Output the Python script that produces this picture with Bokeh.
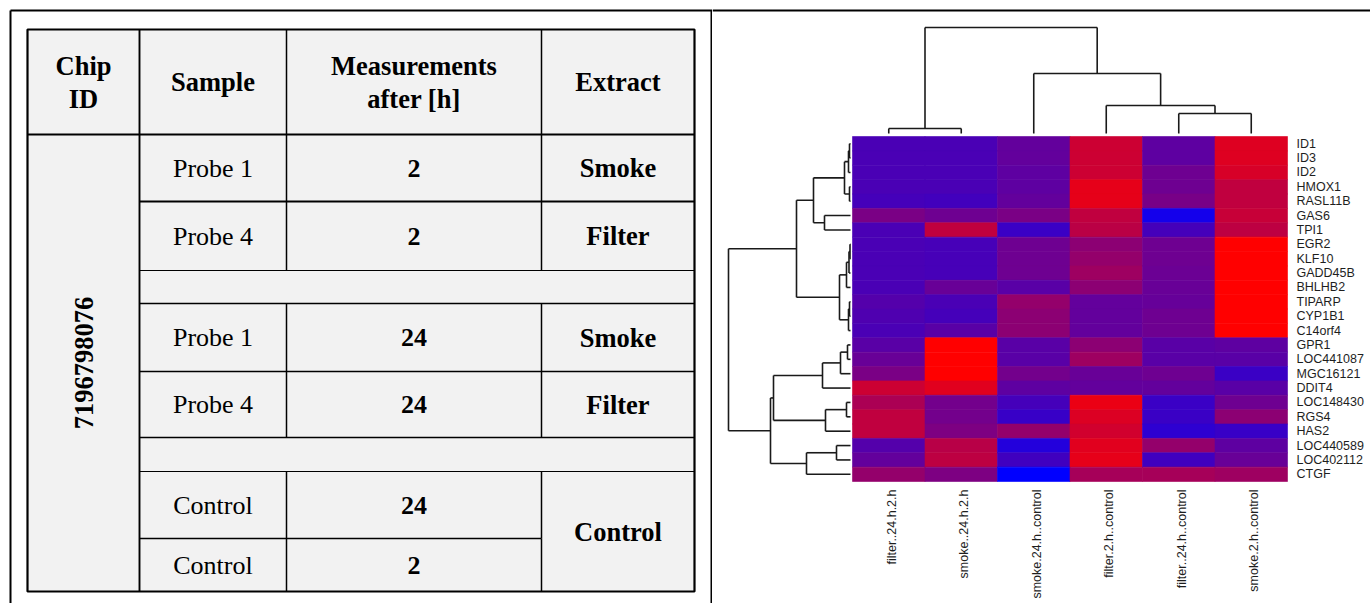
import math
from bokeh.plotting import figure
from bokeh.models import Range1d, LinearColorMapper, ColumnDataSource
from bokeh.layouts import row
from bokeh.core.properties import value
from bokeh.embed import file_html
from bokeh.resources import INLINE

# ---------------- table data ----------------
CHIP_ID = "7196798076"
TABLE_HEADERS = ["Chip\nID", "Sample", "Measurements\nafter [h]", "Extract"]
SAMPLES = ["Probe 1", "Probe 4", "Probe 1", "Probe 4", "Control", "Control"]
HOURS = ["2", "2", "24", "24", "24", "2"]
EXTRACTS = ["Smoke", "Filter", "Smoke", "Filter", "Control"]
EXTRACT_ROW_SPANS = [(0, 0), (1, 1), (2, 2), (3, 3), (4, 5)]

# ---------------- heatmap data ----------------
GENES = ["ID1", "ID3", "ID2", "HMOX1", "RASL11B", "GAS6", "TPI1", "EGR2", "KLF10",
         "GADD45B", "BHLHB2", "TIPARP", "CYP1B1", "C14orf4", "GPR1", "LOC441087",
         "MGC16121", "DDIT4", "LOC148430", "RGS4", "HAS2", "LOC440589", "LOC402112", "CTGF"]
CONDITIONS = ["filter..24.h.2.h", "smoke..24.h.2.h", "smoke.24.h..control",
              "filter.2.h..control", "filter..24.h..control", "smoke.2.h..control"]

# scaled expression (0 = blue, 1 = red), one list per condition, rows in GENES order
filter_24h_2h = [0.29, 0.29, 0.29, 0.29, 0.27, 0.48, 0.29, 0.29, 0.29, 0.29, 0.29, 0.33,
                 0.31, 0.29, 0.35, 0.41, 0.48, 0.80, 0.67, 0.75, 0.75, 0.33, 0.39, 0.58]
smoke_24h_2h = [0.29, 0.29, 0.29, 0.29, 0.26, 0.43, 0.75, 0.28, 0.28, 0.28, 0.41, 0.29,
                0.27, 0.35, 1.00, 1.00, 1.00, 0.88, 0.45, 0.45, 0.49, 0.72, 0.74, 0.49]
smoke_24h_control = [0.39, 0.39, 0.37, 0.37, 0.39, 0.48, 0.23, 0.43, 0.43, 0.43, 0.35, 0.58,
                     0.55, 0.55, 0.35, 0.35, 0.45, 0.37, 0.27, 0.22, 0.58, 0.14, 0.25, 0.00]
filter_2h_control = [0.80, 0.80, 0.80, 0.90, 0.90, 0.75, 0.73, 0.55, 0.58, 0.62, 0.55, 0.39,
                     0.39, 0.39, 0.55, 0.62, 0.41, 0.39, 0.92, 0.86, 0.82, 0.88, 0.90, 0.65]
filter_24h_control = [0.37, 0.37, 0.43, 0.43, 0.47, 0.08, 0.27, 0.43, 0.43, 0.42, 0.41, 0.40,
                      0.43, 0.43, 0.35, 0.35, 0.43, 0.39, 0.23, 0.23, 0.18, 0.58, 0.25, 0.65]
smoke_2h_control = [0.87, 0.87, 0.84, 0.75, 0.75, 0.78, 0.74, 1.00, 1.00, 1.00, 1.00, 1.00,
                    1.00, 1.00, 0.37, 0.35, 0.23, 0.35, 0.43, 0.55, 0.22, 0.37, 0.41, 0.62]
SERIES = [filter_24h_2h, smoke_24h_2h, smoke_24h_control,
          filter_2h_control, filter_24h_control, smoke_2h_control]

# dendrogram merges (child_a, child_b, height); index >= n refers to an earlier merge
ROW_MERGES = [(0, 1, 0.1), (24, 2, 0.2), (3, 4, 0.1), (25, 26, 0.6), (5, 6, 2.6),
              (27, 28, 3.7), (7, 8, 0.05), (30, 9, 0.15), (31, 10, 0.4), (11, 12, 0.1),
              (33, 13, 0.2), (32, 34, 1.1), (29, 35, 5.4), (14, 15, 0.3), (37, 16, 1.0),
              (38, 17, 2.8), (18, 19, 0.4), (40, 20, 2.5), (39, 41, 7.7), (21, 22, 1.4),
              (43, 23, 4.4), (42, 44, 8.0), (36, 45, 12.2)]
COL_MERGES = [(0, 1, 0.5), (4, 5, 2.0), (3, 7, 2.8), (2, 8, 6.0), (6, 9, 10.6)]

# ---------------- layout (page pixels) ----------------
PAGE_X0, PAGE_Y0 = 0, 0
FIG_H = 603
TABLE_FIG_W = 712
HEAT_FIG_W = 658
FRAME_TOP, FRAME_LEFT, DIVIDER_X = 10, 10, 711

T_COLS = [27, 139, 286, 541, 694]
T_TOP = 29
T_BANDS = [134, 201, 270, 303, 371, 437, 471, 538, 591]
DATA_BANDS = [0, 1, 3, 4, 6, 7]
BAND_LINE_W = [1.9, 1.2, 1.7, 1.3, 1.3, 1.1, 1.7]

HEAT_L, HEAT_T, CELL_W, CELL_H = 852, 136, 72.5, 14.375
ROW_DEND_GAP, COL_DEND_GAP, DEND_PX_PER_UNIT = 2, 3, 10

SERIF = value("Liberation Serif")
SANS = value("Liberation Sans")

# ================= table figure =================
tx0 = PAGE_X0
ty0 = PAGE_Y0
t = figure(width=TABLE_FIG_W, height=FIG_H, output_backend="svg", toolbar_location=None,
           x_range=Range1d(tx0, tx0 + TABLE_FIG_W), y_range=Range1d(ty0 + FIG_H, ty0),
           min_border=0)
t.axis.visible = False
t.grid.visible = False
t.outline_line_color = None

t.quad(left=[T_COLS[0]], right=[T_COLS[-1]], top=[T_TOP], bottom=[T_BANDS[-1]],
       fill_color="#F2F2F2", line_color=None)
# frame of the page
t.segment(x0=[FRAME_LEFT, FRAME_LEFT, DIVIDER_X], y0=[FRAME_TOP, FRAME_TOP, FRAME_TOP],
          x1=[tx0 + TABLE_FIG_W, FRAME_LEFT, DIVIDER_X], y1=[FRAME_TOP, ty0 + FIG_H, ty0 + FIG_H],
          line_color="black", line_width=2)
# table grid
t.quad(left=[T_COLS[0]], right=[T_COLS[-1]], top=[T_TOP], bottom=[T_BANDS[-1]],
       fill_color=None, line_color="black", line_width=2.2)
t.segment(x0=[T_COLS[0]], y0=[T_BANDS[0]], x1=[T_COLS[-1]], y1=[T_BANDS[0]],
          line_color="black", line_width=2.2)
t.segment(x0=[T_COLS[1]], y0=[T_TOP], x1=[T_COLS[1]], y1=[T_BANDS[-1]],
          line_color="black", line_width=1.9)
vx0, vy0, vx1, vy1 = [], [], [], []
for c in (2, 3):
    vx0.append(T_COLS[c]); vy0.append(T_TOP); vx1.append(T_COLS[c]); vy1.append(T_BANDS[0])
    for b in DATA_BANDS:
        vx0.append(T_COLS[c]); vy0.append(T_BANDS[b]); vx1.append(T_COLS[c]); vy1.append(T_BANDS[b + 1])
t.segment(x0=vx0, y0=vy0, x1=vx1, y1=vy1, line_color="black", line_width=1.5)

# extract spans merged across bands
merged_edges = set()
for (r0, r1) in EXTRACT_ROW_SPANS:
    for r in range(r0, r1):
        merged_edges.add(DATA_BANDS[r] + 1)
for i in range(1, len(T_BANDS) - 1):
    right = T_COLS[3] if i in merged_edges else T_COLS[4]
    t.segment(x0=[T_COLS[1]], y0=[T_BANDS[i]], x1=[right], y1=[T_BANDS[i]],
              line_color="black", line_width=BAND_LINE_W[i - 1])

col_c = [(T_COLS[i] + T_COLS[i + 1]) / 2 for i in range(4)]
band_c = [(T_BANDS[i] + T_BANDS[i + 1]) / 2 for i in range(len(T_BANDS) - 1)]
head_c = (T_TOP + T_BANDS[0]) / 2

t.text(x=col_c, y=[head_c] * 4, text=TABLE_HEADERS, text_font=SERIF, text_font_size="26.5px",
       text_font_style="bold", text_align="center", text_baseline="middle",
       text_line_height=1.1, text_color="black")
t.text(x=[col_c[0]], y=[(T_BANDS[0] + T_BANDS[-1]) / 2], text=[CHIP_ID], angle=math.pi / 2,
       text_font=SERIF, text_font_size="26.5px", text_font_style="bold",
       text_align="center", text_baseline="middle", text_color="black")
rows_y = [band_c[b] for b in DATA_BANDS]
t.text(x=[col_c[1]] * len(SAMPLES), y=rows_y, text=SAMPLES, text_font=SERIF,
       text_font_size="26px", text_align="center", text_baseline="middle", text_color="black")
t.text(x=[col_c[2]] * len(HOURS), y=rows_y, text=HOURS, text_font=SERIF,
       text_font_size="26px", text_font_style="bold", text_align="center",
       text_baseline="middle", text_color="black")
ext_y = [(T_BANDS[DATA_BANDS[a]] + T_BANDS[DATA_BANDS[b] + 1]) / 2 for a, b in EXTRACT_ROW_SPANS]
t.text(x=[col_c[3]] * len(EXTRACTS), y=ext_y, text=EXTRACTS, text_font=SERIF,
       text_font_size="26.5px", text_font_style="bold", text_align="center",
       text_baseline="middle", text_color="black")

# ================= heatmap figure =================
hx_page = PAGE_X0 + TABLE_FIG_W
n_rows, n_cols = len(GENES), len(CONDITIONS)


def px_to_col(px):
    return (px - HEAT_L) / CELL_W


def py_to_row(py):
    return (py - HEAT_T) / CELL_H


h = figure(width=HEAT_FIG_W, height=FIG_H, output_backend="svg", toolbar_location=None,
           x_range=Range1d(px_to_col(hx_page), px_to_col(hx_page + HEAT_FIG_W)),
           y_range=Range1d(py_to_row(PAGE_Y0 + FIG_H), py_to_row(PAGE_Y0)),
           min_border=0)
h.axis.visible = False
h.grid.visible = False
h.outline_line_color = None

# page frame top line
h.segment(x0=[px_to_col(hx_page)], y0=[py_to_row(FRAME_TOP)],
          x1=[px_to_col(hx_page + HEAT_FIG_W)], y1=[py_to_row(FRAME_TOP)],
          line_color="black", line_width=2)

palette = ["#%02x00%02x" % (round(255 * k / 255), round(255 * (1 - k / 255))) for k in range(256)]
mapper = LinearColorMapper(palette=palette, low=0, high=1)
xs, ys, vs = [], [], []
for ci, series in enumerate(SERIES):
    for ri, v in enumerate(series):
        xs.append(ci + 0.5)
        ys.append(ri + 0.5)
        vs.append(v)
src = ColumnDataSource(dict(x=xs, y=ys, v=vs))
h.rect(x="x", y="y", width=1, height=1, source=src,
       fill_color={"field": "v", "transform": mapper},
       line_color={"field": "v", "transform": mapper}, line_width=0.6)


def dendro(merges, n):
    pos = [i + 0.5 for i in range(n)]
    hgt = [0.0] * n
    segs = []
    for a, b, hh in merges:
        segs.append((pos[a], hgt[a], pos[a], hh))
        segs.append((pos[b], hgt[b], pos[b], hh))
        segs.append((pos[a], hh, pos[b], hh))
        pos.append((pos[a] + pos[b]) / 2)
        hgt.append(hh)
    return segs


DEND_COLOR = "#1a1a1a"
# row dendrogram (left)
rsegs = dendro(ROW_MERGES, n_rows)
base_x = -ROW_DEND_GAP / CELL_W
k = DEND_PX_PER_UNIT / CELL_W
h.segment(x0=[base_x - s[1] * k for s in rsegs], y0=[s[0] for s in rsegs],
          x1=[base_x - s[3] * k for s in rsegs], y1=[s[2] for s in rsegs],
          line_color=DEND_COLOR, line_width=1.6)
# column dendrogram (top)
csegs = dendro(COL_MERGES, n_cols)
base_y = -COL_DEND_GAP / CELL_H
k = DEND_PX_PER_UNIT / CELL_H
h.segment(x0=[s[0] for s in csegs], y0=[base_y - s[1] * k for s in csegs],
          x1=[s[2] for s in csegs], y1=[base_y - s[3] * k for s in csegs],
          line_color=DEND_COLOR, line_width=1.6)

# labels
h.text(x=[n_cols + 9 / CELL_W] * n_rows, y=[i + 0.5 for i in range(n_rows)], text=GENES,
       text_font=SANS, text_font_size="12.5px", text_align="left", text_baseline="middle",
       text_color="#1e1e1e")
h.text(x=[i + 0.5 for i in range(n_cols)], y=[n_rows + 8 / CELL_H] * n_cols, text=CONDITIONS,
       angle=math.pi / 2, x_offset=3, text_font=SANS, text_font_size="12.5px",
       text_align="right", text_baseline="middle", text_color="#1e1e1e")

layout = row(t, h)
open("out.html", "w").write(file_html(layout, INLINE))
